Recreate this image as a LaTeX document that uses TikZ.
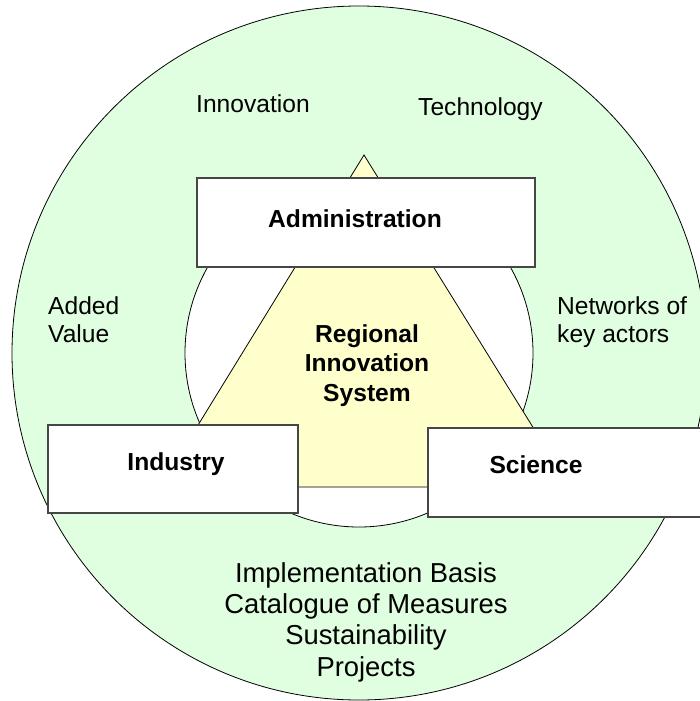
\documentclass[tikz,border=0pt]{standalone}
\usepackage{fontspec}
\setmainfont{Liberation Sans}
\definecolor{ringgreen}{RGB}{224,255,224}
\definecolor{coreyellow}{RGB}{255,255,204}
\definecolor{boxgray}{RGB}{70,70,70}
\begin{document}
\begin{tikzpicture}[x=1pt,y=-1pt,
  outerring/.style={fill=ringgreen,draw=black,line width=0.8pt},
  innerring/.style={fill=white,draw=black,line width=0.8pt},
  core/.style={fill=coreyellow,draw=black,line width=0.8pt,line join=miter},
  actorbox/.style={draw=boxgray,fill=white,line width=1.3pt,rectangle,inner sep=0pt},
  actorlbl/.style={font=\fontsize{24.6}{29.5}\selectfont\bfseries,anchor=base,inner sep=0pt},
  sidelbl/.style={font=\fontsize{24.6}{28}\selectfont,anchor=base west,inner sep=0pt,align=left},
  footlbl/.style={font=\fontsize{27.4}{31.3}\selectfont,anchor=base,inner sep=0pt,align=center}]
\useasboundingbox (0,0) rectangle (700,701);
\clip (0,0) rectangle (700,701);

% rings
\coordinate (hub) at (359,353);
\draw[outerring] (hub) circle[radius=347];
\draw[innerring] (hub) circle[radius=174];

% triangle of the innovation system
\coordinate (apex) at (364,155);
\coordinate (baseL) at (160,487);
\coordinate (baseR) at (570,487);
\draw[core] (apex) -- (baseR) -- (baseL) -- cycle;

% actor boxes
\node[actorbox,minimum width=338pt,minimum height=89pt] (adminbox) at (366,222.5) {};
\node[actorbox,minimum width=250pt,minimum height=88pt] (industrybox) at (173,469) {};
\node[actorbox,minimum width=300pt,minimum height=89pt] (sciencebox) at (578,472.5) {};

\node[actorlbl] (admin) at (355,227) {Administration};
\node[actorlbl] (industry) at (176,470) {Industry};
\node[actorlbl] (science) at (536,473) {Science};
% multi-line nodes: the base anchor sits on the last line
\node[actorlbl,align=center] (ris) at (367,401) {Regional\\Innovation\\System};

% ring labels
\node[sidelbl] (innov) at (196,112) {Innovation};
\node[sidelbl] (tech) at (418,115) {Technology};
\node[sidelbl] (added) at (48,342) {Added\\Value};
\node[sidelbl] (networks) at (557,342) {Networks of\\key actors};
\node[footlbl] (basis) at (366,676) {Implementation Basis\\Catalogue of Measures\\Sustainability\\Projects};
\end{tikzpicture}
\end{document}
